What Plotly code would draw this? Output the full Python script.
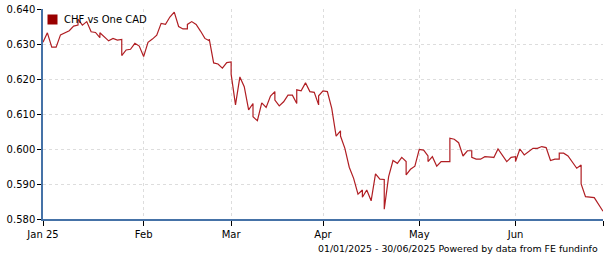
import pandas as pd
import plotly.graph_objects as go

# Daily CHF per CAD rates; the weekend (Sunday) quotes collapse onto the Monday
# position of the weekday-only time axis, as in the original chart.
dates = [
    "2025-01-01", "2025-01-02", "2025-01-03", "2025-01-06", "2025-01-07", "2025-01-08",
    "2025-01-09", "2025-01-10", "2025-01-12", "2025-01-13", "2025-01-14", "2025-01-15",
    "2025-01-16", "2025-01-17", "2025-01-19", "2025-01-20", "2025-01-21", "2025-01-22",
    "2025-01-23", "2025-01-24", "2025-01-26", "2025-01-27", "2025-01-28", "2025-01-29",
    "2025-01-30", "2025-01-31",
    "2025-02-03", "2025-02-04", "2025-02-05", "2025-02-06", "2025-02-07", "2025-02-10",
    "2025-02-11", "2025-02-12", "2025-02-13", "2025-02-14", "2025-02-16", "2025-02-17",
    "2025-02-18", "2025-02-19", "2025-02-20", "2025-02-21", "2025-02-23", "2025-02-24",
    "2025-02-25", "2025-02-26", "2025-02-27", "2025-02-28",
    "2025-03-02", "2025-03-03", "2025-03-04", "2025-03-05", "2025-03-06", "2025-03-07",
    "2025-03-09", "2025-03-10", "2025-03-11", "2025-03-12", "2025-03-13", "2025-03-14",
    "2025-03-16", "2025-03-17", "2025-03-18", "2025-03-19", "2025-03-20", "2025-03-21",
    "2025-03-23", "2025-03-24", "2025-03-25", "2025-03-26", "2025-03-27", "2025-03-28",
    "2025-03-30", "2025-03-31",
    "2025-04-01", "2025-04-02", "2025-04-03", "2025-04-04", "2025-04-06", "2025-04-07",
    "2025-04-08", "2025-04-09", "2025-04-10", "2025-04-11", "2025-04-13", "2025-04-14",
    "2025-04-15", "2025-04-16", "2025-04-17", "2025-04-18", "2025-04-20", "2025-04-21",
    "2025-04-22", "2025-04-23", "2025-04-24", "2025-04-25", "2025-04-27", "2025-04-28",
    "2025-04-29", "2025-04-30",
    "2025-05-01", "2025-05-02", "2025-05-04", "2025-05-05", "2025-05-06", "2025-05-07",
    "2025-05-08", "2025-05-11", "2025-05-12", "2025-05-13", "2025-05-14", "2025-05-15",
    "2025-05-16", "2025-05-18", "2025-05-19", "2025-05-20", "2025-05-21", "2025-05-22",
    "2025-05-25", "2025-05-26", "2025-05-27", "2025-05-28", "2025-05-29", "2025-05-30",
    "2025-06-01", "2025-06-02", "2025-06-03", "2025-06-04", "2025-06-05", "2025-06-06",
    "2025-06-09", "2025-06-10", "2025-06-11", "2025-06-12", "2025-06-13", "2025-06-15",
    "2025-06-16", "2025-06-17", "2025-06-18", "2025-06-19", "2025-06-20", "2025-06-22",
    "2025-06-23", "2025-06-24", "2025-06-25", "2025-06-26", "2025-06-30",
]

chf_vs_cad = [
    0.6305, 0.6332, 0.6291, 0.6291, 0.6326, 0.6333,
    0.6338, 0.6351, 0.6354, 0.6371, 0.6354, 0.6364,
    0.6335, 0.6333, 0.6318, 0.6332, 0.6321, 0.6309,
    0.6316, 0.6311, 0.6313, 0.6267, 0.6283, 0.6285,
    0.6302, 0.6294,
    0.6264, 0.6305, 0.6314, 0.6325, 0.6359, 0.6356,
    0.6377, 0.6391, 0.6350, 0.6343, 0.6343, 0.6356,
    0.6364, 0.6356, 0.6337, 0.6316, 0.6309, 0.6314,
    0.6246, 0.6243, 0.6231, 0.6247,
    0.6249, 0.6214, 0.6126, 0.6206, 0.6178, 0.6112,
    0.6130, 0.6092, 0.6081, 0.6132, 0.6119, 0.6151,
    0.6164, 0.6140, 0.6123, 0.6135, 0.6154, 0.6154,
    0.6130, 0.6169, 0.6166, 0.6189, 0.6164, 0.6162,
    0.6126, 0.6152,
    0.6166, 0.6164, 0.6116, 0.6037, 0.6052, 0.6037,
    0.6002, 0.5948, 0.5916, 0.5871, 0.5883, 0.5862,
    0.5883, 0.5852, 0.5929, 0.5914, 0.5913, 0.5828,
    0.5921, 0.5967, 0.5959, 0.5976, 0.5964, 0.5926,
    0.5942, 0.5951,
    0.5999, 0.5997, 0.5980, 0.5964, 0.5978, 0.5951,
    0.5964, 0.5964, 0.6031, 0.6028, 0.6018, 0.5980,
    0.5995, 0.5995, 0.5976, 0.5971, 0.5971, 0.5978,
    0.5976, 0.5974, 0.6000, 0.5983, 0.5964, 0.5976,
    0.5978, 0.5964, 0.6000, 0.5983, 0.5992, 0.6002,
    0.6002, 0.6007, 0.6004, 0.5967, 0.5971, 0.5971,
    0.5988, 0.5988, 0.5980, 0.5964, 0.5945, 0.5954,
    0.5900, 0.5864, 0.5862, 0.5861, 0.5822,
]

x_tick_vals = ["2025-01-01", "2025-02-03", "2025-03-03", "2025-04-01", "2025-05-01", "2025-06-02", "2025-06-30"]
x_tick_text = ["Jan 25", "Feb", "Mar", "Apr", "May", "Jun", ""]
y_tick_vals = [0.580, 0.590, 0.600, 0.610, 0.620, 0.630, 0.640]

series_name = "CHF vs One CAD"
caption = "01/01/2025 - 30/06/2025 Powered by data from FE fundinfo"

FONT = "DejaVu Sans"
AXIS_BLUE = "#4572A7"
GRID = "#dddddd"

# weekend quotes sit on the following Monday's position of the weekday axis
ts = pd.to_datetime(dates)
plot_x = [d + pd.Timedelta(days=(7 - d.weekday()) % 7) if d.weekday() >= 5 else d for d in ts]

fig = go.Figure()
fig.add_trace(go.Scatter(
    x=plot_x, y=chf_vs_cad, mode="lines", name=series_name,
    line=dict(color="#b01e23", width=1.2), showlegend=False,
))

fig.update_layout(
    width=605, height=260,
    margin=dict(l=43, r=2, t=9, b=41),
    paper_bgcolor="white", plot_bgcolor="white",
    font=dict(family=FONT, size=10, color="#000000"),
    showlegend=False,
)

fig.update_xaxes(
    type="date", range=["2025-01-01", "2025-06-30"],
    rangebreaks=[dict(bounds=["sat", "mon"])],
    tickvals=x_tick_vals, ticktext=x_tick_text,
    showline=True, linecolor=AXIS_BLUE, linewidth=1.5,
    ticks="outside", ticklen=5, tickcolor="#000000", tickwidth=1,
    showgrid=True, gridcolor=GRID, griddash="3px,3px", gridwidth=1,
    zeroline=False, tickfont=dict(family=FONT, size=10, color="#000000"),
)
fig.update_yaxes(
    range=[0.580, 0.640], tickvals=y_tick_vals, tickformat=".3f",
    showline=True, linecolor=AXIS_BLUE, linewidth=1.5,
    ticks="outside", ticklen=4, tickcolor="#000000", tickwidth=1,
    showgrid=True, gridcolor=GRID, griddash="3px,3px", gridwidth=1,
    zeroline=False, tickfont=dict(family=FONT, size=10, color="#000000"),
)

# legend swatch and label
fig.add_annotation(
    xref="paper", yref="paper", x=0.0161, y=0.951, xanchor="center", yanchor="middle",
    text=" ", width=9, height=9, bgcolor="#990000", showarrow=False, borderpad=0,
)
fig.add_annotation(
    xref="paper", yref="paper", x=0.0357, y=0.95, xanchor="left", yanchor="middle",
    text=series_name, showarrow=False, font=dict(family=FONT, size=10, color="#000000"),
    borderpad=0,
)
fig.add_annotation(
    xref="paper", yref="paper", x=1, y=-0.14, xanchor="right", yanchor="middle",
    xshift=-4, text=caption, showarrow=False,
    font=dict(family=FONT, size=9.4, color="#000000"), borderpad=0,
)

fig.write_html("out.html")
